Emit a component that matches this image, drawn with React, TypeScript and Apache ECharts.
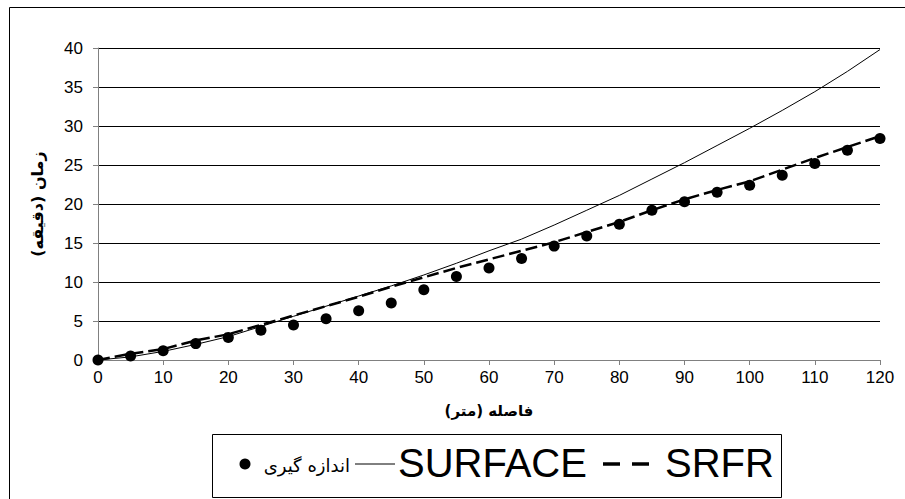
import React, { useEffect, useRef } from "react";
import * as echarts from "echarts";

const distances = [0, 5, 10, 15, 20, 25, 30, 35, 40, 45, 50, 55, 60, 65, 70, 75, 80, 85, 90, 95, 100, 105, 110, 115, 120];
const measured = [0, 0.5, 1.2, 2.1, 2.9, 3.8, 4.5, 5.3, 6.3, 7.3, 9.0, 10.7, 11.8, 13.0, 14.6, 15.9, 17.4, 19.2, 20.3, 21.5, 22.4, 23.7, 25.2, 26.9, 28.4];
const surface = [0, 0.4, 1.1, 2.0, 3.0, 4.3, 5.6, 6.9, 8.2, 9.5, 10.9, 12.4, 14.0, 15.5, 17.3, 19.2, 21.1, 23.2, 25.3, 27.5, 29.7, 32.0, 34.4, 37.0, 39.8];
const srfr = [0, 0.8, 1.4, 2.5, 3.3, 4.5, 5.7, 6.9, 8.1, 9.4, 10.6, 11.8, 12.9, 14.0, 15.1, 16.4, 17.7, 19.2, 20.6, 21.8, 22.9, 24.4, 25.9, 27.3, 28.7];

const seriesNames = ["اندازه گیری", "SURFACE", "SRFR"];
const xAxisTitle = "فاصله (متر)";
const yAxisTitle = "زمان (دقیقه)";

const pairs = (ys: number[]) => distances.map((x, i) => [x, ys[i]]);

export default function App() {
  const ref = useRef<HTMLDivElement>(null);
  useEffect(() => {
    if (!ref.current) return;
    const chart = echarts.init(ref.current, undefined, { renderer: "svg" });
    const fa = "'DejaVu Sans', sans-serif";
    const en = "'Liberation Sans', Arial, sans-serif";
    const legendY = 464;
    chart.setOption({
      animation: false,
      backgroundColor: "#ffffff",
      graphic: [
        {
          type: "rect",
          shape: { x: 9.5, y: 7.5, width: 1000, height: 1000 },
          style: { fill: "none", stroke: "#000", lineWidth: 1 },
          silent: true,
        },
        {
          type: "group",
          silent: true,
          children: [
            {
              type: "rect",
              shape: { x: 212.5, y: 434.5, width: 569, height: 63 },
              style: { fill: "#fff", stroke: "#000", lineWidth: 1 },
            },
            {
              type: "circle",
              shape: { cx: 245, cy: legendY, r: 5.5 },
              style: { fill: "#000" },
            },
            {
              type: "text",
              x: 350,
              y: legendY + 1,
              style: {
                text: seriesNames[0],
                fontFamily: fa,
                fontSize: 18,
                fill: "#000",
                align: "right",
                verticalAlign: "middle",
              },
            },
            {
              type: "line",
              shape: { x1: 355, y1: legendY, x2: 395, y2: legendY },
              style: { stroke: "#000", lineWidth: 1 },
            },
            {
              type: "text",
              x: 398,
              y: legendY - 1,
              style: {
                text: seriesNames[1],
                fontFamily: en,
                fontSize: 40,
                fill: "#000",
                align: "left",
                verticalAlign: "middle",
              },
            },
            {
              type: "line",
              shape: { x1: 603, y1: legendY, x2: 620, y2: legendY },
              style: { stroke: "#000", lineWidth: 3.5 },
            },
            {
              type: "line",
              shape: { x1: 632, y1: legendY, x2: 649, y2: legendY },
              style: { stroke: "#000", lineWidth: 3.5 },
            },
            {
              type: "text",
              x: 665,
              y: legendY - 1,
              style: {
                text: seriesNames[2],
                fontFamily: en,
                fontSize: 40,
                fill: "#000",
                align: "left",
                verticalAlign: "middle",
              },
            },
          ],
        },
      ],
      grid: { left: 98, right: 25, top: 48, bottom: 139, containLabel: false },
      xAxis: {
        type: "value",
        min: 0,
        max: 120,
        interval: 10,
        name: xAxisTitle,
        nameLocation: "middle",
        nameGap: 43,
        nameTextStyle: { fontFamily: fa, fontSize: 15, fontWeight: "bold", color: "#000" },
        axisLine: { show: true, lineStyle: { color: "#808080", width: 1 } },
        axisTick: { show: true, inside: false, length: 5, lineStyle: { color: "#808080" } },
        axisLabel: { fontFamily: en, fontSize: 17, color: "#000", margin: 9 },
        splitLine: { show: false },
      },
      yAxis: {
        type: "value",
        min: 0,
        max: 40,
        interval: 5,
        name: yAxisTitle,
        nameLocation: "middle",
        nameRotate: 90,
        nameGap: 53,
        nameTextStyle: { fontFamily: fa, fontSize: 16, fontWeight: "bold", color: "#000" },
        axisLine: { show: true, lineStyle: { color: "#808080", width: 1 } },
        axisTick: { show: true, inside: false, length: 5, lineStyle: { color: "#808080" } },
        axisLabel: { fontFamily: en, fontSize: 17, color: "#000", margin: 15 },
        splitLine: { show: true, lineStyle: { color: "#000", width: 1 } },
      },
      legend: { show: false },
      series: [
        {
          name: seriesNames[0],
          type: "scatter",
          data: pairs(measured),
          symbol: "circle",
          symbolSize: 11,
          itemStyle: { color: "#000", opacity: 1 },
          z: 3,
        },
        {
          name: seriesNames[1],
          type: "line",
          data: pairs(surface),
          symbol: "none",
          lineStyle: { color: "#000", width: 1, type: "solid" },
          itemStyle: { color: "#000" },
          z: 2,
        },
        {
          name: seriesNames[2],
          type: "line",
          data: pairs(srfr),
          symbol: "none",
          lineStyle: { color: "#000", width: 2.5, type: [12, 5] },
          itemStyle: { color: "#000" },
          z: 2,
        },
      ],
    });
    return () => chart.dispose();
  }, []);
  return (
    <div
      ref={ref}
      style={{ position: "fixed", left: 0, top: 0, width: 905, height: 499, background: "#fff" }}
    />
  );
}
